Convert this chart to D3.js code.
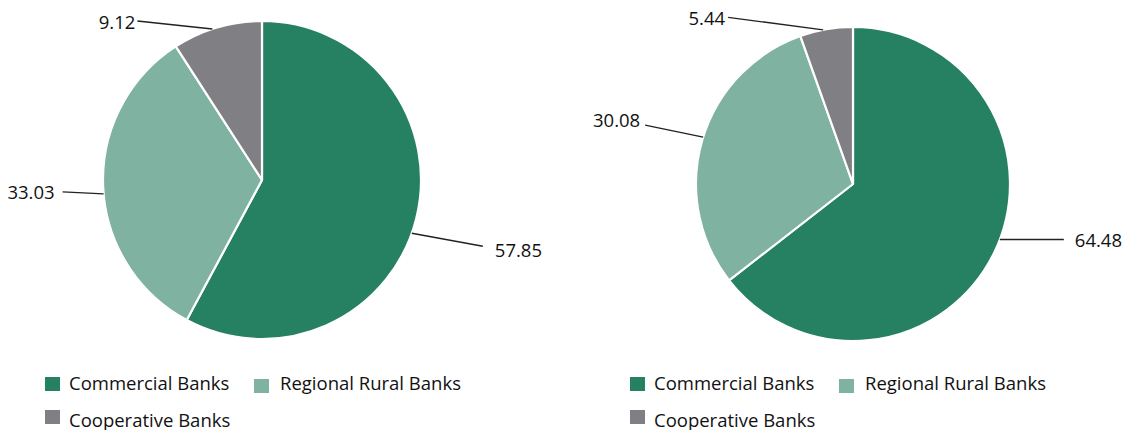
<!DOCTYPE html>
<html>
<head>
<meta charset="utf-8">
<script src="https://cdn.jsdelivr.net/npm/d3@7"></script>
<style>
  html, body { margin: 0; padding: 0; background: #fff; }
  svg { display: block; font-family: "Open Sans", sans-serif; }
</style>
</head>
<body>
<svg id="chart" width="1127" height="430"></svg>
<script>
// ---- data ----
const categories = ["Commercial Banks", "Regional Rural Banks", "Cooperative Banks"];
const valuesLeft = [57.85, 33.03, 9.12];
const valuesRight = [64.48, 30.08, 5.44];
const colors = ["#268062", "#7fb2a1", "#808084"];

// ---- layout (positions/sizes, not data) ----
const panels = [
  { values: valuesLeft, cx: 262, cy: 180, r: 159, legendX: 45,
    // leader: fraction of slice angle, line vector, text gap & baseline shift
    leaders: [
      { f: 0.526, dx: 71, dy: 13, gap: 12, ty: 11 },
      { f: 0.477, dx: -41, dy: -2, gap: 8, ty: 7 },
      { f: 0.446, dx: -75, dy: -8, gap: 2, ty: 8.5 }
    ] },
  { values: valuesRight, cx: 853, cy: 184, r: 157, legendX: 630,
    leaders: [
      { f: 0.477, dx: 64, dy: 0, gap: 11, ty: 7 },
      { f: 0.51, dx: -58, dy: -12, gap: 5, ty: 2 },
      { f: 0.44, dx: -95, dy: -12.5, gap: 3, ty: 8 }
    ] }
];

const svg = d3.select("#chart");
const color = d3.scaleOrdinal().domain(categories).range(colors);
const pie = d3.pie().sort(null).value(d => d.value);

panels.forEach(p => {
  const data = categories.map((c, i) => ({ cat: c, value: p.values[i] }));
  const arcs = pie(data);
  const arc = d3.arc().innerRadius(0).outerRadius(p.r);
  const g = svg.append("g").attr("transform", `translate(${p.cx},${p.cy})`);

  g.selectAll("path.slice").data(arcs).join("path")
    .attr("class", "slice")
    .attr("d", arc)
    .attr("fill", d => color(d.data.cat))
    .attr("stroke", "#fff")
    .attr("stroke-width", 2.2)
    .attr("stroke-linejoin", "round");

  arcs.forEach((a, i) => {
    const L = p.leaders[i];
    const ang = a.startAngle + (a.endAngle - a.startAngle) * L.f;
    const x0 = Math.sin(ang) * p.r;
    const y0 = -Math.cos(ang) * p.r;
    const x1 = x0 + L.dx, y1 = y0 + L.dy;
    g.append("line")
      .attr("x1", x0).attr("y1", y0).attr("x2", x1).attr("y2", y1)
      .attr("stroke", "#222").attr("stroke-width", 1.4);
    const right = L.dx >= 0;
    g.append("text")
      .attr("x", x1 + (right ? L.gap : -L.gap))
      .attr("y", y1 + L.ty)
      .attr("text-anchor", right ? "start" : "end")
      .attr("font-size", 18.5)
      .attr("fill", "#111")
      .text(d3.format(".2f")(a.data.value));
  });

  // legend
  const legendPos = [
    { x: 0, y: 377 }, { x: 209, y: 379 }, { x: 0, y: 410 }
  ];
  const lg = svg.append("g").attr("transform", `translate(${p.legendX},0)`);
  categories.forEach((c, i) => {
    const lp = legendPos[i];
    lg.append("rect")
      .attr("x", lp.x).attr("y", lp.y).attr("width", 15).attr("height", 14)
      .attr("fill", color(c));
    lg.append("text")
      .attr("x", lp.x + 24 + (i === 1 ? 2 : 0))
      .attr("y", (i === 2 ? 427 : 390))
      .attr("font-size", 18.5)
      .attr("fill", "#111")
      .text(c);
  });
});
</script>
</body>
</html>
